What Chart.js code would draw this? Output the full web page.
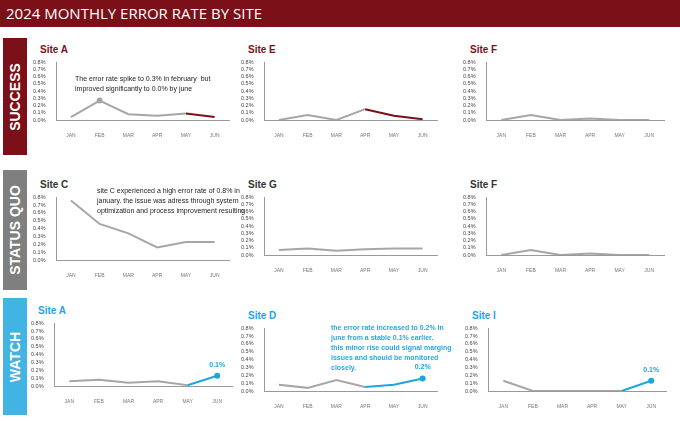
<!DOCTYPE html>
<html><head><meta charset="utf-8">
<script src="https://cdn.jsdelivr.net/npm/chart.js@4"></script>
<style>
body{margin:0;width:680px;height:421px;background:#fff;font-family:"Liberation Sans Narrow","Liberation Sans",Arial,sans-serif;position:relative;overflow:hidden}
.hdr{position:absolute;left:0;top:0;width:680px;height:27px;background:#7b1019;color:#fff;font-family:"Open Sans",sans-serif;font-size:15px;line-height:27px;padding-left:6px;box-sizing:border-box}
.side{position:absolute;left:3px;width:24px;color:#fff;font-weight:bold;font-family:"Liberation Sans",Arial;font-size:14px}
.side span{position:absolute;left:50%;top:50%;transform:translate(-50%,-50%) rotate(-90deg);white-space:nowrap}
.panel{position:absolute}
.ttl{position:absolute;left:10px;top:0;font-weight:bold;font-size:10px;font-family:"Liberation Sans",Arial}
.panel canvas{position:absolute;left:0;top:12px}
.note{position:absolute;font-size:7px;line-height:10px;color:#222;font-family:"Liberation Sans",Arial}
</style></head><body>
<div class="hdr">2024 MONTHLY ERROR RATE BY SITE</div>
<div class="side" style="top:38px;height:117px;background:#7b1019"><span>SUCCESS</span></div>
<div class="side" style="top:170px;height:120px;background:#7f7f7f"><span>STATUS QUO</span></div>
<div class="side" style="top:298px;height:117px;background:#41b4e4"><span>WATCH</span></div>
<div id="root"></div>
<div class="note" style="left:75px;top:74px">The error rate spike to 0.3% in february &nbsp;but<br>improved significantly to 0.0% by june</div>
<div class="note" style="left:97px;top:186px">site C experienced a high error rate of 0.8% in<br>january. the issue was adress through system<br>optimization and process improvement resulting</div>
<div class="note" style="left:331px;top:323px;color:#29a8e0;font-weight:bold">the error rate increased to 0.2% in<br>june from a stable 0.1% earlier.<br>this minor rise could signal marging<br>issues and should be monitored<br>closely.</div>
<script>
const months = ["JAN","FEB","MAR","APR","MAY","JUN"];
const yTicks = [0,0.1,0.2,0.3,0.4,0.5,0.6,0.7,0.8];
const siteA1 = [0.04,0.27,0.08,0.06,0.09,0.04];
const siteE = [0.0,0.07,0.0,0.15,0.06,0.01];
const siteF = [0.0,0.07,0.0,0.02,0.0,0.0];
const siteC = [0.76,0.46,0.34,0.16,0.23,0.23];
const siteG = [0.07,0.09,0.06,0.08,0.09,0.09];
const siteF2 = [0.0,0.07,0.0,0.02,0.0,0.0];
const siteA3 = [0.06,0.08,0.04,0.06,0.01,0.13];
const siteD = [0.08,0.04,0.14,0.05,0.08,0.16];
const siteI = [0.13,0.0,0.0,0.0,0.0,0.13];

const RED="#7b1019", GRAY="#a6a6a6", BLUE="#1ba6e0", DARK="#333";
const panels = [
  {name:"Site A",data:siteA1,x:30,y:44,w:205,h:100,tc:RED,hl:4,hc:RED,pt:1,pc:GRAY},
  {name:"Site E",data:siteE,x:238,y:44,w:205,h:100,tc:RED,hl:3,hc:RED},
  {name:"Site F",data:siteF,x:460,y:44,w:210,h:100,tc:RED},
  {name:"Site C",data:siteC,x:30,y:179,w:205,h:105,tc:DARK},
  {name:"Site G",data:siteG,x:238,y:179,w:205,h:100,tc:DARK},
  {name:"Site F",data:siteF2,x:460,y:179,w:210,h:100,tc:DARK},
  {name:"Site A",data:siteA3,x:28,y:305,w:210,h:105,tc:BLUE,hl:4,hc:BLUE,pt:5,pc:BLUE,lbl:"0.1%"},
  {name:"Site D",data:siteD,x:238,y:310,w:205,h:105,tc:BLUE,hl:3,hc:BLUE,pt:5,pc:BLUE,lbl:"0.2%"},
  {name:"Site I",data:siteI,x:462,y:310,w:210,h:105,tc:BLUE,hl:4,hc:BLUE,pt:5,pc:BLUE,lbl:"0.1%"}
];

const labelPlugin = {
  id:"ptLabel",
  afterDatasetsDraw(chart, args, opts){
    if(!opts.text) return;
    const m = chart.getDatasetMeta(0).data[opts.index];
    const c = chart.ctx;
    c.save(); c.fillStyle=opts.color; c.font="bold 7px Liberation Sans, Arial";
    c.textAlign="center"; c.fillText(opts.text, m.x, m.y-9); c.restore();
  }
};

const root = document.getElementById("root");
panels.forEach(p=>{
  const d = document.createElement("div");
  d.className="panel";
  d.style.cssText=`left:${p.x}px;top:${p.y}px;width:${p.w}px;height:${p.h}px`;
  d.innerHTML=`<div class="ttl" style="color:${p.tc}">${p.name}</div><canvas width="${p.w}" height="${p.h-12}" style="width:${p.w}px;height:${p.h-12}px"></canvas>`;
  root.appendChild(d);
  new Chart(d.querySelector("canvas"),{
    type:"line",
    data:{labels:months,datasets:[{
      data:p.data,borderWidth:2,borderColor:GRAY,tension:0,
      segment:{borderColor:ctx=>(p.hl!==undefined && ctx.p0DataIndex>=p.hl)?p.hc:GRAY},
      pointRadius:p.data.map((v,i)=>i===p.pt?3:0),
      pointBackgroundColor:p.pc||GRAY,pointBorderWidth:0
    }]},
    plugins:[labelPlugin],
    options:{
      responsive:false,animation:false,
      layout:{padding:{left:0,right:6,top:2,bottom:0}},
      plugins:{legend:{display:false},tooltip:{enabled:false},
        ptLabel:{text:p.lbl,index:p.pt,color:p.pc}},
      scales:{
        y:{min:0,max:0.8,afterBuildTicks:ax=>{ax.ticks=yTicks.map(v=>({value:v}))},
          grid:{display:false},border:{color:"#999"},
          ticks:{font:{size:5.5},color:"#444",padding:3,autoSkip:false,callback:v=>(v*100).toFixed(0)/100===v?(v).toFixed(1)+"%":v.toFixed(1)+"%"}},
        x:{grid:{display:false},border:{color:"#999"},offset:true,
          ticks:{font:{size:5},color:"#777",padding:5}}
      }
    }
  });
});
</script>
</body></html>
